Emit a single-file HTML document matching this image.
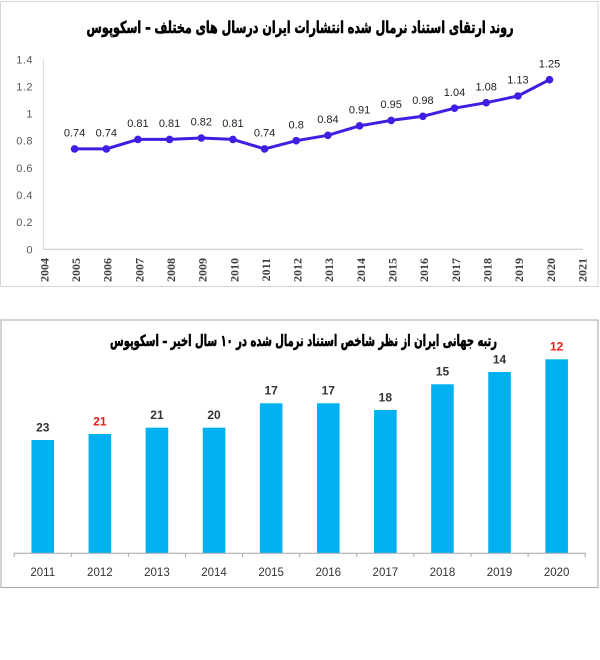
<!DOCTYPE html>
<html><head><meta charset="utf-8"><style>
html,body{margin:0;padding:0;background:#fff;}
svg{display:block;}
</style></head><body>
<svg width="600" height="660" viewBox="0 0 600 660" xmlns="http://www.w3.org/2000/svg">
<rect width="600" height="660" fill="#fff"/>
<!-- Chart 1 frame -->
<rect x="0.5" y="1.5" width="597.5" height="285" fill="#fff" stroke="#d4d4d4" stroke-width="1"/>
<text x="300" y="33" text-anchor="middle" font-family="DejaVu Sans, sans-serif" font-weight="bold" font-size="16.5" fill="#000" stroke="#000" stroke-width="0.6" direction="rtl" textLength="427" lengthAdjust="spacingAndGlyphs">روند ارتقای استناد نرمال شده انتشارات ایران درسال های مختلف – اسکوپوس</text>
<!-- axes -->
<line x1="43.3" y1="59" x2="43.3" y2="249.3" stroke="#d9d9d9" stroke-width="1"/>
<line x1="43" y1="249.3" x2="583" y2="249.3" stroke="#c8c8c8" stroke-width="1"/>
<g font-family="Liberation Sans, sans-serif" font-size="11" fill="#595959" text-anchor="end" letter-spacing="0.5">
<text x="33" y="253.3">0</text>
<text x="33" y="226.2">0.2</text>
<text x="33" y="199">0.4</text>
<text x="33" y="171.9">0.6</text>
<text x="33" y="144.7">0.8</text>
<text x="33" y="117.6">1</text>
<text x="33" y="90.5">1.2</text>
<text x="33" y="63.3">1.4</text>
</g>
<g font-family="Liberation Serif, serif" font-weight="bold" font-size="12" fill="#404040" text-anchor="end">
<text transform="translate(48.3,258) rotate(-90)">2004</text>
<text transform="translate(79.9,258) rotate(-90)">2005</text>
<text transform="translate(111.6,258) rotate(-90)">2006</text>
<text transform="translate(143.3,258) rotate(-90)">2007</text>
<text transform="translate(174.9,258) rotate(-90)">2008</text>
<text transform="translate(206.6,258) rotate(-90)">2009</text>
<text transform="translate(238.3,258) rotate(-90)">2010</text>
<text transform="translate(269.9,258) rotate(-90)">2011</text>
<text transform="translate(301.6,258) rotate(-90)">2012</text>
<text transform="translate(333.2,258) rotate(-90)">2013</text>
<text transform="translate(364.9,258) rotate(-90)">2014</text>
<text transform="translate(396.6,258) rotate(-90)">2015</text>
<text transform="translate(428.2,258) rotate(-90)">2016</text>
<text transform="translate(459.9,258) rotate(-90)">2017</text>
<text transform="translate(491.5,258) rotate(-90)">2018</text>
<text transform="translate(523.2,258) rotate(-90)">2019</text>
<text transform="translate(554.9,258) rotate(-90)">2020</text>
<text transform="translate(586.5,258) rotate(-90)">2021</text>
</g>
<polyline fill="none" stroke="#3d1fe3" stroke-width="3" stroke-linejoin="round" points="74.6,148.9 106.3,148.9 137.9,139.4 169.6,139.4 201.3,138.0 232.9,139.4 264.6,148.9 296.2,140.7 327.9,135.3 359.6,125.8 391.2,120.4 422.9,116.3 454.5,108.2 486.2,102.7 517.9,96.0 549.5,79.7"/>
<g fill="#3d1fe3">
<circle cx="74.6" cy="148.9" r="3.8"/><circle cx="106.3" cy="148.9" r="3.8"/><circle cx="137.9" cy="139.4" r="3.8"/><circle cx="169.6" cy="139.4" r="3.8"/><circle cx="201.3" cy="138.0" r="3.8"/><circle cx="232.9" cy="139.4" r="3.8"/><circle cx="264.6" cy="148.9" r="3.8"/><circle cx="296.2" cy="140.7" r="3.8"/><circle cx="327.9" cy="135.3" r="3.8"/><circle cx="359.6" cy="125.8" r="3.8"/><circle cx="391.2" cy="120.4" r="3.8"/><circle cx="422.9" cy="116.3" r="3.8"/><circle cx="454.5" cy="108.2" r="3.8"/><circle cx="486.2" cy="102.7" r="3.8"/><circle cx="517.9" cy="96.0" r="3.8"/><circle cx="549.5" cy="79.7" r="3.8"/>
</g>
<g font-family="Liberation Sans, sans-serif" font-size="11" fill="#222" text-anchor="middle">
<text x="74.6" y="136.6">0.74</text>
<text x="106.3" y="136.6">0.74</text>
<text x="137.9" y="127.1">0.81</text>
<text x="169.6" y="127.1">0.81</text>
<text x="201.3" y="125.7">0.82</text>
<text x="232.9" y="127.1">0.81</text>
<text x="264.6" y="136.6">0.74</text>
<text x="296.2" y="128.4">0.8</text>
<text x="327.9" y="123.0">0.84</text>
<text x="359.6" y="113.5">0.91</text>
<text x="391.2" y="108.1">0.95</text>
<text x="422.9" y="104.0">0.98</text>
<text x="454.5" y="95.9">1.04</text>
<text x="486.2" y="90.4">1.08</text>
<text x="517.9" y="83.7">1.13</text>
<text x="549.5" y="67.4">1.25</text>
</g>

<!-- Chart 2 frame -->
<rect x="1" y="320" width="597" height="267.5" fill="#fff" stroke="#a6a6a6" stroke-width="1"/>
<text x="303.5" y="346" text-anchor="middle" font-family="DejaVu Sans, sans-serif" font-weight="bold" font-size="15.5" fill="#000" stroke="#000" stroke-width="0.6" direction="rtl" textLength="387" lengthAdjust="spacingAndGlyphs">رتبه جهانی ایران از نظر شاخص استناد نرمال شده در ۱۰ سال اخیر – اسکوپوس</text>
<g fill="#00b0f0">
<rect x="31.45" y="440" width="22.6" height="113"/>
<rect x="88.55" y="434" width="22.6" height="119"/>
<rect x="145.65" y="427.7" width="22.6" height="125.3"/>
<rect x="202.75" y="427.7" width="22.6" height="125.3"/>
<rect x="259.85" y="403.3" width="22.6" height="149.7"/>
<rect x="316.95" y="403.3" width="22.6" height="149.7"/>
<rect x="374.05" y="410" width="22.6" height="143"/>
<rect x="431.15" y="384.3" width="22.6" height="168.7"/>
<rect x="488.25" y="372" width="22.6" height="181"/>
<rect x="545.35" y="359.3" width="22.6" height="193.7"/>
</g>
<line x1="13.5" y1="553.3" x2="585.8" y2="553.3" stroke="#a6a6a6" stroke-width="1"/>
<g stroke="#a6a6a6" stroke-width="1">
<line x1="14.2" y1="553" x2="14.2" y2="557"/><line x1="71.3" y1="553" x2="71.3" y2="557"/><line x1="128.4" y1="553" x2="128.4" y2="557"/><line x1="185.5" y1="553" x2="185.5" y2="557"/><line x1="242.6" y1="553" x2="242.6" y2="557"/><line x1="299.7" y1="553" x2="299.7" y2="557"/><line x1="356.8" y1="553" x2="356.8" y2="557"/><line x1="413.9" y1="553" x2="413.9" y2="557"/><line x1="471" y1="553" x2="471" y2="557"/><line x1="528.1" y1="553" x2="528.1" y2="557"/><line x1="585.2" y1="553" x2="585.2" y2="557"/>
</g>
<g font-family="Liberation Sans, sans-serif" font-weight="bold" font-size="12" fill="#333" text-anchor="middle">
<text x="42.75" y="431.3">23</text>
<text x="99.85" y="425.3" fill="#e3201b">21</text>
<text x="156.95" y="419">21</text>
<text x="214.05" y="419">20</text>
<text x="271.15" y="394.6">17</text>
<text x="328.25" y="394.6">17</text>
<text x="385.35" y="401.3">18</text>
<text x="442.45" y="375.6">15</text>
<text x="499.55" y="363.3">14</text>
<text x="556.65" y="350.6" fill="#e3201b">12</text>
</g>
<g font-family="Liberation Sans, sans-serif" font-size="11.5" fill="#333" text-anchor="middle">
<text x="42.75" y="575.8">2011</text>
<text x="99.85" y="575.8">2012</text>
<text x="156.95" y="575.8">2013</text>
<text x="214.05" y="575.8">2014</text>
<text x="271.15" y="575.8">2015</text>
<text x="328.25" y="575.8">2016</text>
<text x="385.35" y="575.8">2017</text>
<text x="442.45" y="575.8">2018</text>
<text x="499.55" y="575.8">2019</text>
<text x="556.65" y="575.8">2020</text>
</g>
</svg>
</body></html>
